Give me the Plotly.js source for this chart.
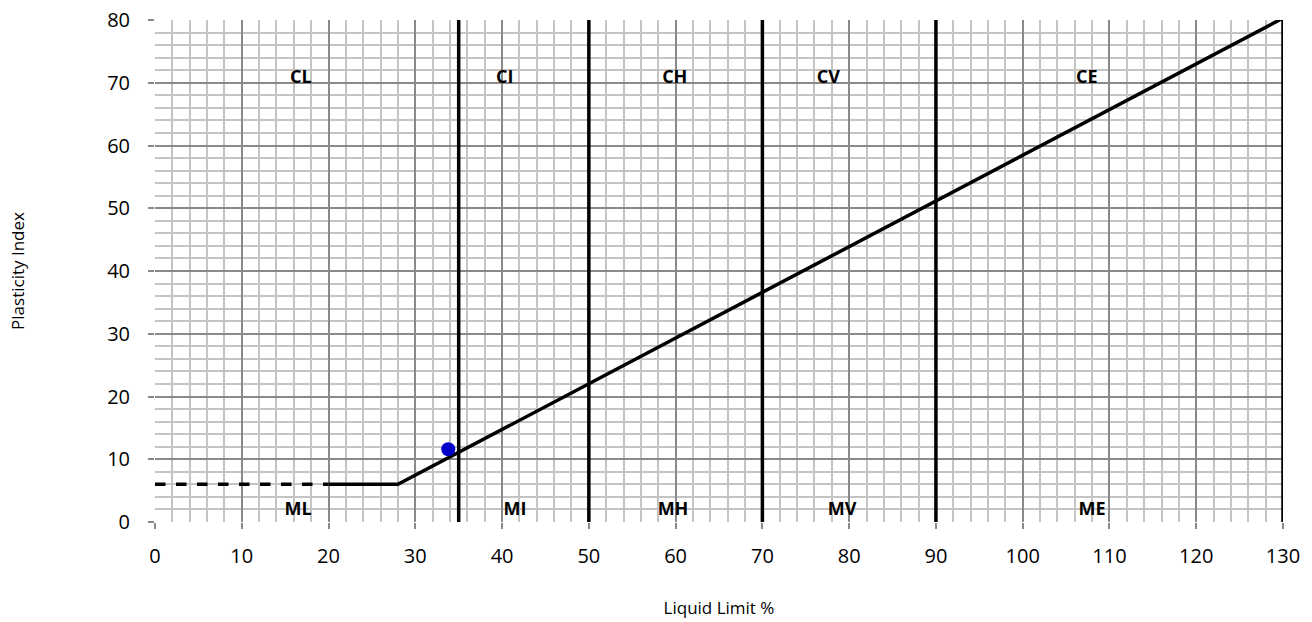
<!DOCTYPE html>
<html><head><meta charset="utf-8">
<script src="https://cdn.plot.ly/plotly-3.0.1.min.js"></script>
<style>body{margin:0;background:#fff}#c{width:1312px;height:622px}</style>
</head><body><div id="c"></div>
<script>
// Data
const dashedX = [0, 20];
const dashedY = [6, 6];
const aLineX = [20, 28, 130];
const aLineY = [6, 6, 80.3];
const boundaryLL = [35, 50, 70, 90, 130];
const boundaryPI = [0, 80];
const sampleLL = [33.8];
const samplePI = [11.6];
const upperLabels = ['CL', 'CI', 'CH', 'CV', 'CE'];
const upperX = [16.8, 40.3, 59.9, 77.6, 107.4];
const upperY = [70.6, 70.6, 70.6, 70.6, 70.6];
const lowerLabels = ['ML', 'MI', 'MH', 'MV', 'ME'];
const lowerX = [16.5, 41.5, 59.7, 79.2, 108];
const lowerY = [1.9, 1.9, 1.9, 1.9, 1.9];

const labelFont = {family: 'Open Sans, Liberation Sans, sans-serif', size: 18, color: '#000', weight: 'bold'};
const traces = [];
traces.push({x: dashedX, y: dashedY, mode: 'lines', line: {color: '#000', width: 3.5, dash: 'dash'}, hoverinfo: 'skip'});
traces.push({x: aLineX, y: aLineY, mode: 'lines', line: {color: '#000', width: 3.5}, hoverinfo: 'skip'});
boundaryLL.forEach(v => {
  traces.push({x: [v, v], y: boundaryPI, mode: 'lines', line: {color: '#000', width: 3.5}, hoverinfo: 'skip'});
});
traces.push({x: sampleLL, y: samplePI, mode: 'markers', marker: {color: '#0000c8', size: 14}, cliponaxis: false});
traces.push({x: upperX, y: upperY, text: upperLabels, mode: 'text', textfont: labelFont});
traces.push({x: lowerX, y: lowerY, text: lowerLabels, mode: 'text', textfont: labelFont});

const layout = {
  width: 1312, height: 622,
  margin: {l: 155, r: 29, t: 20, b: 100},
  showlegend: false,
  paper_bgcolor: '#fff', plot_bgcolor: '#fff',
  font: {family: 'Open Sans, Liberation Sans, sans-serif', color: '#000'},
  xaxis: {
    range: [0, 130], dtick: 10, tick0: 0,
    showgrid: true, gridcolor: '#8a8a8a', gridwidth: 2,
    minor: {dtick: 2, showgrid: true, gridcolor: '#c4c4c4', gridwidth: 2},
    ticks: 'outside', ticklen: 6, tickcolor: '#8a8a8a', tickwidth: 2,
    ticklabelstandoff: 10,
    tickfont: {size: 20}, zeroline: false, showline: false,
    title: {text: 'Liquid Limit %', font: {size: 17}, standoff: 34}
  },
  yaxis: {
    range: [0, 80], dtick: 10, tick0: 0,
    showgrid: true, gridcolor: '#8a8a8a', gridwidth: 2,
    minor: {dtick: 2, showgrid: true, gridcolor: '#c4c4c4', gridwidth: 2},
    ticks: 'outside', ticklen: 6, tickcolor: '#8a8a8a', tickwidth: 2,
    ticklabelstandoff: 14,
    tickfont: {size: 20}, zeroline: false, showline: false,
    title: {text: 'Plasticity Index', font: {size: 17}, standoff: 78}
  }
};
Plotly.newPlot('c', traces, layout, {displayModeBar: false, staticPlot: true});
</script></body></html>
